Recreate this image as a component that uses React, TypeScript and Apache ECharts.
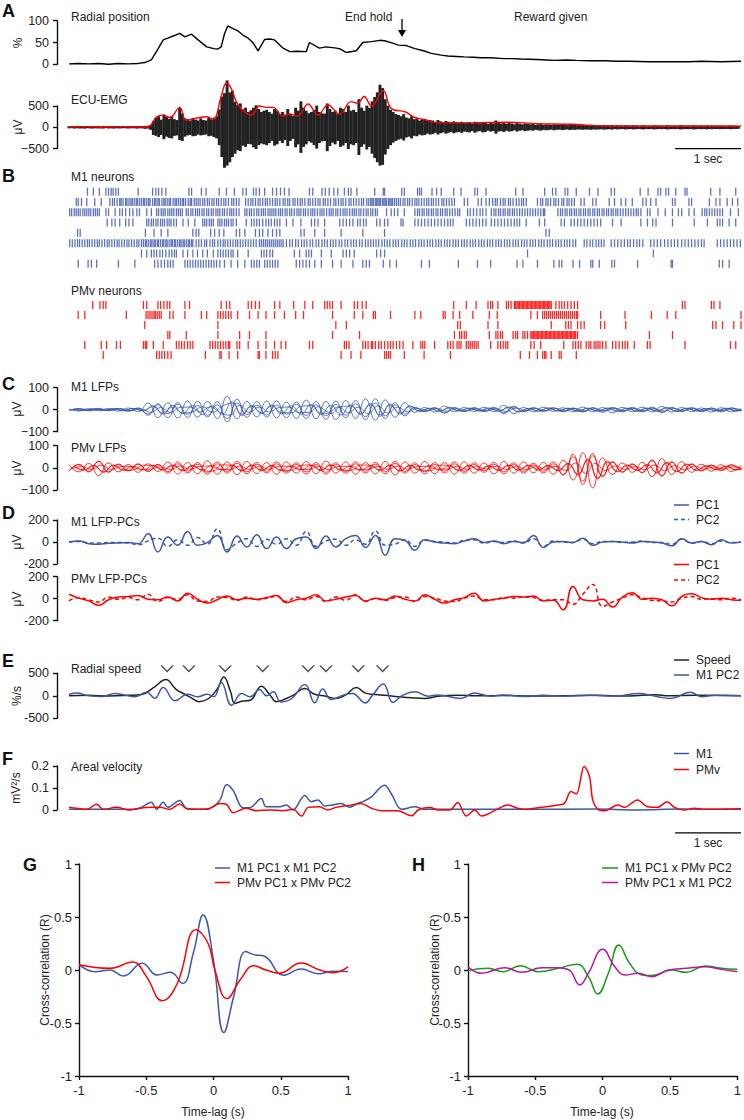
import { useEffect, useRef } from 'react';
import * as echarts from 'echarts';

const FONT = '"Liberation Sans", Arial, sans-serif';
const T_END = 10.2;
const BLUE = '#3b58a8';
const RASTER_BLUE = '#2a45a0';
const RED = '#ff0000';
const GREEN = '#1a9a1a';
const MAGENTA = '#b8179f';
const INK = '#111';
const TXT = '#222';

// ---------- Panel A ----------
const radialPos = [[0,1],[0.15,2],[0.3,1],[0.45,2],[0.6,0],[0.75,2],[0.9,1],[1.05,2],[1.15,4],[1.25,10],[1.35,35],[1.43,56],[1.5,60],[1.6,66],[1.68,71],[1.76,63],[1.86,69],[1.96,56],[2.09,40],[2.2,36],[2.26,35],[2.31,40],[2.36,70],[2.41,88],[2.49,82],[2.57,76],[2.64,67],[2.72,60],[2.79,50],[2.87,31],[2.97,57],[3.05,58],[3.12,56],[3.25,37],[3.35,29],[3.47,30],[3.6,29],[3.65,50],[3.8,37],[3.9,40],[4.06,37],[4.12,35],[4.21,27],[4.36,31],[4.46,50],[4.59,52],[4.72,55],[4.79,54],[4.9,49],[5.0,44],[5.12,43],[5.25,36],[5.38,31],[5.5,25],[5.65,21],[5.75,19],[5.88,18],[6.0,17],[6.13,16],[6.26,15],[6.4,15],[6.6,13],[6.73,13],[6.86,12],[7.1,11],[7.25,10],[7.37,9],[7.55,10],[7.7,9],[7.9,8],[8.13,8],[8.3,7],[8.5,7],[8.8,6],[9.14,6],[9.4,6],[9.6,7],[9.9,6],[10.2,7]];

// EMG: per-bin maximum and minimum, bins of 0.04 s (µV)
const EMG_DT = 0.04;
const emgHi = [
  25,30,20,35,28,22,30,25,32,20,28,35,22,30,25,28,33,20,26,30,24,32,28,22,30,
  28,25,32,30,35,40,60,150,220,260,180,300,240,200,260,190,170,450,320,210,190,160,220,180,160,
  210,170,160,220,190,230,260,420,720,800,1100,820,860,600,520,560,420,460,360,400,460,520,430,360,390,
  410,360,320,430,390,310,360,300,430,320,270,460,390,610,460,390,330,360,410,510,360,330,320,560,430,
  360,390,310,460,430,360,510,390,410,360,660,460,390,510,460,610,710,820,1000,920,660,510,410,360,310,
  290,260,310,230,210,260,190,210,160,190,180,150,170,160,130,170,140,120,150,130,110,140,120,110,130,
  100,110,120,90,130,100,90,120,110,80,100,90,160,100,90,110,80,100,90,70,100,80,70,90,80,
  70,80,60,70,80,60,70,65,55,70,60,55,65,60,50,65,55,60,50,55,60,50,55,60,50,
  55,50,45,55,50,45,55,40,50,45,40,50,45,40,50,45,40,45,50,40,45,40,50,45,40,
  45,40,50,45,40,45,40,50,45,40,45,40,50,45,40,45,40,50,40,45,40,40,45,40,40,
  40,45,40,40,35
];
const emgLo = [
  -25,-20,-30,-22,-28,-25,-32,-20,-26,-30,-22,-28,-25,-30,-20,-27,-24,-30,-22,-28,-25,-20,-30,-26,-22,
  -25,-30,-22,-28,-35,-30,-60,-180,-200,-230,-180,-280,-220,-250,-260,-200,-190,-300,-320,-220,-190,-180,-210,-200,-170,
  -190,-180,-170,-210,-200,-230,-260,-420,-700,-950,-900,-820,-700,-620,-540,-560,-430,-460,-390,-400,-470,-510,-420,-380,-400,
  -420,-370,-320,-430,-400,-320,-370,-300,-440,-320,-270,-470,-400,-600,-460,-400,-330,-360,-420,-500,-370,-330,-320,-560,-440,
  -360,-400,-320,-460,-430,-370,-510,-400,-420,-370,-650,-460,-400,-520,-460,-620,-720,-820,-900,-880,-640,-510,-420,-360,-320,
  -290,-270,-310,-240,-220,-260,-200,-210,-170,-190,-180,-150,-170,-160,-130,-170,-140,-120,-150,-130,-110,-140,-120,-110,-130,
  -100,-110,-120,-90,-130,-100,-90,-120,-110,-80,-100,-90,-150,-100,-90,-110,-80,-100,-90,-70,-100,-80,-70,-90,-80,
  -70,-80,-60,-70,-80,-60,-70,-65,-55,-70,-60,-55,-65,-60,-50,-65,-55,-60,-50,-55,-60,-50,-55,-60,-50,
  -55,-50,-45,-55,-50,-45,-55,-40,-50,-45,-40,-50,-45,-40,-50,-45,-40,-45,-50,-40,-45,-40,-50,-45,-40,
  -45,-40,-50,-45,-40,-45,-40,-50,-45,-40,-45,-40,-50,-45,-40,-45,-40,-50,-40,-45,-40,-40,-45,-40,-40,
  -40,-45,-40,-40,-35
];
const emgEnvelope = [[0,5],[0.3,15],[0.5,8],[0.8,15],[1.0,8],[1.2,12],[1.33,246],[1.43,286],[1.53,230],[1.68,468],[1.78,167],[1.98,230],[2.09,246],[2.19,183],[2.31,722],[2.39,1040],[2.46,920],[2.57,524],[2.77,286],[2.89,500],[3.0,468],[3.1,468],[3.25,262],[3.35,310],[3.47,262],[3.63,548],[3.78,286],[3.93,524],[4.11,310],[4.28,603],[4.38,563],[4.48,722],[4.59,500],[4.77,865],[4.89,444],[5.1,365],[5.25,230],[5.4,183],[5.6,103],[6.11,103],[6.61,119],[7.12,87],[7.62,70],[8.13,32],[9.14,24],[10.2,24]];
const scaleBarSec = [9.2, 10.2];

// ---------- Panel B (spike times, in units of 10 ms) ----------
const m1Row1 = [28,37,46,56,60,64,67,71,75,105,127,132,136,141,147,182,186,201,208,228,239,251,264,269,280,284,289,297,309,315,321,327,334,365,370,384,389,395,402,408,418,424,428,437,464,477,479,505,509,529,532,535,551,558,565,584,595,616,620,633,678,689,722,734,739,753,757,770,790,803,823,828,867,879,894,898,906,910,921,935,938,974,988,1012];
const m1Row2 = [11,14,19,27,39,49,62,66,69,73,77,79,82,86,88,91,94,96,99,102,104,107,110,113,115,118,121,123,127,130,132,135,137,141,144,146,149,152,154,158,161,163,166,169,172,174,177,181,184,186,190,193,196,199,203,206,210,213,217,220,224,227,231,235,238,242,247,250,254,258,268,272,276,279,283,287,290,294,298,301,305,309,313,316,320,325,328,332,335,340,343,347,351,354,358,363,366,370,374,378,381,386,389,393,397,402,405,409,413,416,420,425,428,432,436,440,444,447,452,455,458,460,462,465,467,469,471,473,476,478,480,482,485,487,489,491,494,497,500,503,507,510,514,517,521,525,528,531,535,539,543,546,550,553,557,561,566,569,573,577,581,585,600,605,621,626,633,638,643,647,650,655,659,662,667,670,674,679,683,687,690,694,711,716,719,724,727,731,736,739,743,748,751,756,759,763,767,777,782,795,800,820,828,838,845,855,871,876,883,891,916,920,941,945,972,982,988,999,1007,1015];
const m1Row3 = [1,4,8,11,14,17,21,24,27,30,33,37,40,43,46,56,60,70,77,81,86,92,97,103,107,118,125,133,136,140,143,146,150,153,156,159,163,166,169,172,178,181,185,188,192,195,198,202,205,209,212,216,219,223,226,229,233,236,240,244,247,250,254,258,267,270,274,277,281,285,288,292,295,298,302,305,308,311,314,318,321,324,328,331,335,338,342,346,349,352,356,359,363,367,370,373,377,381,384,387,391,395,398,401,405,408,412,416,419,422,426,430,433,436,440,443,447,451,454,458,461,465,468,482,489,494,499,509,525,529,532,536,539,543,546,550,553,557,560,564,567,571,574,578,582,586,590,593,605,609,614,619,624,628,633,641,645,648,652,655,659,662,666,669,673,676,680,684,688,692,696,700,704,708,712,716,720,722,742,746,749,753,756,760,763,767,770,774,777,781,784,788,791,795,798,802,805,809,812,816,819,823,826,830,833,837,841,845,849,853,857,861,864,868,878,882,894,905,916,925,930,941,949,961,965,968,972,976,980,984,988,992,1004,1016];
const m1Row4 = [58,65,70,77,86,91,97,118,121,125,128,132,135,139,142,145,149,152,155,159,163,173,181,191,203,206,209,213,216,219,226,229,232,236,239,242,246,249,254,269,277,281,285,289,294,299,303,307,312,316,320,330,340,352,368,373,378,388,411,416,421,426,431,438,442,447,451,467,472,479,484,504,507,525,530,535,540,545,550,555,560,565,570,575,579,583,603,608,613,618,623,628,633,641,646,651,656,661,666,671,676,680,684,694,714,722,747,752,762,767,772,777,782,787,792,797,802,807,825,838,868,878,886,891,916,949,969,984,988,992,1002,1012];
const m1Row5 = [13,17,116,129,140,150,188,193,197,215,221,228,235,254,259,267,283,289,294,302,309,315,320,352,357,373,388,413,446,479,724,729];
const m1Row6 = [1,5,9,13,16,20,24,28,31,35,39,43,46,50,54,58,61,65,69,73,76,80,84,88,91,95,99,103,106,110,113,116,118,121,124,126,129,131,134,136,139,142,144,147,149,152,155,157,160,162,165,168,170,173,175,178,181,183,186,188,193,197,201,206,209,214,218,221,226,230,234,237,241,245,249,253,256,260,264,268,272,276,280,284,289,292,295,298,301,304,307,310,313,316,319,322,325,330,335,339,344,348,353,357,361,366,370,375,379,384,388,392,397,401,405,410,414,419,423,428,432,436,441,445,450,454,458,462,466,470,475,479,483,487,492,496,500,505,509,513,518,522,526,531,535,539,544,548,552,557,561,565,570,574,578,583,587,591,596,600,604,609,613,617,622,626,630,635,639,643,648,652,656,661,665,669,674,678,682,687,691,695,700,704,708,713,717,721,726,730,734,739,743,747,752,756,760,765,769,782,786,791,795,800,804,808,812,823,828,833,838,843,848,852,857,862,866,871,883,888,893,898,904,909,914,919,924,930,935,940,945,950,955,960,964,984,989,994,999,1004,1009,1014,1019];
const m1Row7 = [110,118,125,129,133,138,142,147,152,156,160,163,173,180,188,195,203,210,219,226,230,234,238,242,246,249,256,272,292,296,300,305,309,342,350,360,364,368,383,398,416,421,426,433,467,473,479,696,887];
const m1Row8 = [14,29,34,42,75,100,130,135,140,145,150,154,158,176,180,184,188,192,196,200,204,208,212,216,220,224,229,236,246,256,267,277,281,285,289,297,301,305,309,313,317,345,350,355,360,365,373,383,400,413,431,446,451,456,477,487,497,535,547,591,620,640,680,689,711,736,744,748,765,775,792,795,805,824,828,863,914,916,987,992,1002];
const m1Spikes = [m1Row1, m1Row2, m1Row3, m1Row4, m1Row5, m1Row6, m1Row7, m1Row8];

const pmvRow1 = [36,47,52,56,113,118,135,139,144,149,153,176,183,231,239,244,272,277,283,289,312,320,341,358,370,388,392,396,400,413,433,438,445,451,584,603,618,636,640,643,651,664,667,671,676,678,680,682,684,686,688,690,692,694,696,698,700,702,704,706,708,710,712,714,716,718,720,722,724,726,728,730,732,739,744,748,752,757,762,767,772,931,935,975,979,988];
const pmvRow2 = [14,24,87,117,120,123,126,129,131,134,137,140,153,158,176,201,209,226,230,234,238,242,246,256,274,287,299,312,327,344,356,400,433,446,462,465,488,525,534,568,571,583,593,613,638,650,701,711,719,722,725,728,731,734,737,740,743,746,749,752,755,758,761,764,767,770,772,807,844,884,908,921,1020];
const pmvRow3 = [115,226,405,421,590,594,636,651,732,754,758,762,772,777,782,807,813,845,977,982,992,1009,1020];
const pmvRow4 = [150,153,178,226,259,274,299,400,441,585,593,596,600,603,638,648,651,655,658,674,678,681,689,692,696,701,703,705,707,709,711,713,715,717,719,721,723,725,727,729,731,733,735,737,739,741,743,745,747,749,751,753,755,757,759,761,763,765,767,769,772,881,916];
const pmvRow5 = [24,49,57,72,78,113,116,118,128,143,163,167,171,175,180,184,188,214,218,222,226,230,234,238,242,244,255,259,272,287,299,312,322,329,365,370,418,421,425,446,450,454,459,461,465,470,474,479,484,488,492,497,502,507,522,534,537,540,555,575,579,583,589,592,595,603,606,609,612,615,618,621,640,651,655,659,663,666,701,706,716,751,765,769,773,777,785,789,792,797,800,803,806,810,815,825,830,835,840,844,848,858,878,882,935,1004,1012];
const pmvRow6 = [52,133,137,141,145,150,155,207,229,231,243,256,287,289,299,309,313,317,413,428,443,479,482,485,488,509,539,579,685,699,711,719,722,724,732,744,747,770];
const pmvSpikes = [pmvRow1, pmvRow2, pmvRow3, pmvRow4, pmvRow5, pmvRow6];

// ---------- Panel C (µV, sampled every 0.15 s; some traces start a little later) ----------
const m1Lfp1 = [4,-6,5,-5,6,-7,8,-9,30,-36, 32,-38,40,-34,38,-40,62,-42,38,-33, 40,-37,35,-40,44,-42,38,-45,42,-40, 50,-48,45,-35,32,-12,10,-11,17,-9, 10,-8,11,-9,19,-18,10,-9,11,-8, 9,-10,12,-9,10,-14,11,-9,12,-10, 15,-11,10,-9,8,-11,9,-10,7];
const m1Lfp2 = [-3,4,-5,3,-4,5,-6,7,-20,22, -18,24,-21,19,-25,22,-40,30,-22,20, -24,21,-20,25,-26,22,-28,24,-25,27, -32,30,-28,22,-20,9,-8,7,-13,8, -7,6,-8,7,-14,12,-8,7,-6,8, -7,6,-9,8,-7,10,-8,7,-9,8, -11,9,-7,6,-8,7,-6,8,-5];
const m1Lfp3 = [2,-3,4,-2,3,-4,5,-4,14,-16, 12,-15,-10,14,-12,16,30,-20,15,-14, 16,-12,-14,16,18,-15,-17,14,16,-18, 22,-24,20,-15,14,-6,5,-6,8,-5, 6,-4,5,-6,10,-9,5,-6,7,-5, 6,-5,7,-6,5,-7,6,-5,7,-6, 8,-7,6,-5,4,-6,5,-5,4];
const m1Lfp4 = [-5,5,-4,6,-5,6,-7,8,-25,27, -36,32,-35,38,-33,37,-55,48,-35,37, -34,40,-37,35,-40,37,-44,39,-37,42, -46,50,-40,32,-28,11,-9,10,-16,10, -9,10,-8,11,-17,16,-9,10,-8,9, -10,8,-11,10,-12,9,-10,11,-9,12, -13,10,-8,10,-9,8,-10,7,-6];
const m1Lfp5 = [3,-4,3,-4,5,-5,6,-6,18,-20, 20,-17,19,-22,18,-20,36,-26,20,-18, 22,-19,18,-21,24,-22,20,-24,22,-20, 28,-30,26,-20,18,-8,7,-8,11,-6, 7,-6,8,-7,13,-11,6,-7,8,-6, 7,-8,6,-7,8,-6,7,-8,6,-7, 10,-8,7,-6,6,-5,7,-6,5];
const m1Lfp6 = [-2,3,-2,2,-3,4,-4,3,-12,10, -13,11,12,-10,13,-12,-25,20,-12,13, -11,10,12,-13,-12,14,-11,13,-14,12, -18,17,-15,12,-10,5,-4,5,-7,4, -5,4,-5,4,-8,7,-4,5,-4,5, -4,5,-5,4,-5,6,-4,5,-5,4, -6,5,-4,5,-4,3,-4,3,-3];
const m1Lfps = [m1Lfp1, m1Lfp2, m1Lfp3, m1Lfp4, m1Lfp5, m1Lfp6];

const pmvLfp1 = [15,-18,20,-35,22,-18,15,-20,18,-16, 26,-28,24,-27,32,-29,27,-31,29,-26, 24,-29,27,-24,29,-27,31,-24,27,-29, 24,-27,29,-32,27,-24,29,-27,24,-29, 27,-24,22,-27,29,-24,27,-22,24,-29, 35,-55,68,-90,45,-30,22,-20,25,-40, 42,-30,28,-20,16,-15,14,-16,12];
const pmvLfp2 = [-12,14,-16,28,-18,15,-12,16,-15,14, -17,18,-15,16,-20,18,-16,20,-18,16, -15,18,-16,15,-18,16,-20,15,-16,18, -15,16,-18,20,-16,15,-18,16,-15,18, -16,15,-13,16,-18,15,-16,13,-15,18, -30,50,-60,55,-35,25,-18,16,-20,32, -34,25,-22,16,-13,12,-11,13,-10];
const pmvLfp3 = [9,-11,12,-20,13,-11,-9,12,11,-10, 12,-13,11,-12,-15,13,12,-14,13,-12, 11,-13,-12,11,13,-12,14,-11,-12,13, 11,-12,13,-15,12,-11,-13,12,11,-13, 12,-11,10,-12,13,-11,12,-10,11,-13, 20,-33,40,-50,30,-18,13,-12,15,-24, 25,-18,17,-12,10,-9,8,-10,7];
const pmvLfp4 = [-14,16,-18,30,-20,17,-14,18,-16,15, -24,27,-23,24,-29,27,-24,29,-27,24, -23,27,-24,23,-27,24,-29,23,-24,27, -23,24,-27,29,-24,23,-27,24,-23,27, -24,23,-20,24,-27,23,-24,20,-23,27, -32,62,-75,65,-40,28,-20,18,-22,36, -38,28,-24,18,-14,13,-12,14,-11];
const pmvLfp5 = [7,-9,10,-17,11,-9,7,-10,9,-8, 10,-11,9,-10,12,-11,10,-12,11,-10, 9,-11,10,-9,11,-10,12,-9,10,-11, 9,-10,11,-12,10,-9,11,-10,9,-11, 10,-9,8,-10,11,-9,10,-8,9,-11, 18,-28,35,-45,25,-15,11,-10,12,-20, 21,-15,14,-10,8,-7,7,-8,6];
const pmvLfp6 = [-5,6,-7,12,-7,6,5,-7,-6,5, -7,8,-6,7,8,-7,-7,8,-7,6, -6,7,7,-6,-7,6,-8,6,7,-7, -6,7,-7,8,-6,6,7,-6,-6,7, -7,6,-5,7,-7,6,-7,5,-6,7, -12,22,-25,20,-12,9,-7,6,-8,13, -13,10,-9,6,-5,4,-4,5,-4];
const pmvLfps = [pmvLfp1, pmvLfp2, pmvLfp3, pmvLfp4, pmvLfp5, pmvLfp6];
const lfpStartTimes = [0, 0, 0.075, 0, 0.075, 0.04];

// ---------- Panel D (µV, sampled every 0.15 s) ----------
const m1Pc1 = [0,8,-15,-20,-12,-8,-5,-15,75,-90, 45,-30,95,-30,-5,60,-90,55,-45,65, -60,45,-60,30,45,-60,55,-45,30,60, -50,60,-120,30,15,-75,20,0,-10,-15, 10,30,-5,10,-15,5,-5,60,-50,0, 5,-5,35,-30,0,5,0,-10,5,0, -10,-35,30,-10,5,-25,20,-10,0];
const m1Pc2 = [0,5,-8,-10,-5,-5,-8,-25,10,35, -40,20,-30,40,-20,120,-70,-10,30,-40, 25,-20,30,-30,95,-40,10,25,-30,20, -20,100,-30,-20,20,-40,15,5,0,-10, 15,20,-10,5,-5,10,-10,30,-40,10, 0,-5,25,-15,5,5,-5,0,10,-5, -5,-20,25,-10,5,-15,10,-5,0];
const pmvPc1 = [40,5,-20,-60,-10,15,20,30,-5,-10, 15,-20,50,-5,-40,-10,25,-10,5,-5, 10,30,-35,-10,5,35,-20,-5,15,30, -20,5,-10,25,-5,-20,35,-5,-40,-10, 10,50,-20,-5,5,20,15,25,-20,-15, -100,110,-10,-20,-5,-75,15,55,-5,5, -10,-65,20,45,10,-5,5,-10,-15];
const pmvPc2 = [-20,10,-10,-30,15,-5,10,-10,40,-25, 10,-5,35,-20,-25,15,10,-15,15,-10, 5,20,-25,15,-10,20,-25,15,-15,35, -25,0,-15,10,15,-25,20,5,-20,-25, 5,25,-10,-10,10,5,15,10,-15,-10, -10,-50,40,130,-70,-30,5,35,10,-15, -20,-30,5,20,-5,0,-10,5,-10];

// ---------- Panel E ----------
const radialSpeed = [[0,0],[0.3,10],[0.6,-5],[0.9,10],[1.1,30],[1.3,200],[1.47,360],[1.62,150],[1.75,40],[1.85,-40],[1.98,-130],[2.12,-60],[2.25,150],[2.35,420],[2.45,100],[2.52,-170],[2.62,-120],[2.75,-100],[2.92,215],[3.05,20],[3.15,-130],[3.3,-60],[3.4,10],[3.58,165],[3.72,40],[3.9,-10],[4.05,-60],[4.2,20],[4.36,185],[4.5,60],[4.65,30],[4.8,10],[5.0,-20],[5.2,-45],[5.4,-60],[5.6,-10],[5.9,10],[6.2,0],[6.6,5],[7.0,-5],[7.5,0],[8.0,10],[8.5,-5],[8.9,25],[9.1,0],[9.5,10],[10.2,0]];
const speedM1Pc2 = [[0,30],[0.12,60],[0.3,0],[0.5,-15],[0.7,50],[1.0,-20],[1.18,80],[1.3,-55],[1.43,185],[1.61,-110],[1.8,35],[1.95,-20],[2.1,35],[2.2,-20],[2.31,300],[2.47,-210],[2.62,50],[2.75,-20],[2.89,140],[3.0,0],[3.1,90],[3.22,-135],[3.38,-60],[3.58,250],[3.73,-155],[3.85,150],[3.98,-80],[4.15,10],[4.3,50],[4.5,-160],[4.6,0],[4.77,260],[4.92,-150],[5.05,0],[5.25,90],[5.45,-10],[5.6,20],[5.95,-60],[6.15,65],[6.4,-10],[6.6,20],[6.9,-15],[7.2,10],[7.5,-10],[7.9,10],[8.3,-5],[8.65,50],[8.9,-10],[9.13,-60],[9.43,80],[9.6,-20],[9.8,10],[10.2,0]];
const speedPeakTimes = [1.49, 1.82, 2.37, 2.94, 3.63, 3.9, 4.39, 4.76];

// ---------- Panel F (mV²/s) ----------
const arealM1 = [[0,0.003],[1.0,0.003],[1.1,0.012],[1.25,0.035],[1.33,0.003],[1.43,0.035],[1.5,0.012],[1.68,0.043],[1.78,0.008],[1.98,0.003],[2.14,0.008],[2.29,0.045],[2.39,0.115],[2.49,0.09],[2.64,0.01],[2.74,0.01],[2.92,0.052],[2.99,0.015],[3.2,0.015],[3.3,0.023],[3.4,0.0],[3.58,0.066],[3.68,0.038],[3.78,0.046],[3.88,0.018],[4.0,0.023],[4.13,0.03],[4.26,0.012],[4.38,0.03],[4.46,0.038],[4.59,0.06],[4.79,0.113],[4.89,0.075],[5.05,0.003],[5.25,0.015],[5.4,0.003],[6.0,0.003],[7.0,0.003],[8.0,0.004],[8.6,0.0],[9.3,0.004],[10.2,0.003]];
const arealPmv = [[0,0.012],[0.12,0.008],[0.27,0.003],[0.42,0.026],[0.52,0.003],[0.72,0.012],[0.92,0.0],[1.07,0.008],[1.25,0.012],[1.38,0.012],[1.53,0.003],[1.68,0.027],[1.81,0.003],[2.09,0.003],[2.29,0.03],[2.39,0.026],[2.49,-0.012],[2.69,0.008],[2.84,-0.003],[3.05,0.0],[3.25,-0.003],[3.4,0.003],[3.53,-0.027],[3.63,0.012],[3.8,0.015],[3.93,0.0],[4.05,0.012],[4.26,0.021],[4.43,0.03],[4.59,0.008],[4.74,-0.003],[4.99,-0.003],[5.2,-0.026],[5.3,0.0],[5.48,0.011],[5.6,0.0],[5.78,0.0],[5.9,0.034],[6.03,-0.027],[6.16,0.0],[6.26,-0.027],[6.46,-0.003],[6.66,0.023],[6.81,0.008],[6.91,0.003],[7.17,0.012],[7.42,0.023],[7.52,0.03],[7.62,0.084],[7.7,0.073],[7.82,0.198],[7.9,0.153],[7.95,0.046],[8.03,0.003],[8.13,-0.003],[8.33,0.023],[8.43,0.012],[8.63,0.046],[8.78,0.015],[8.93,0.012],[9.08,0.038],[9.19,0.012],[9.34,0.0],[9.49,0.008],[9.64,0.003],[10.2,0.006]];

// ---------- Panels G, H (time-lag s, R) ----------
const xcM1M1 = [[-1,0.05],[-0.88,-0.016],[-0.77,0],[-0.67,-0.057],[-0.53,0.063],[-0.42,-0.047],[-0.32,-0.022],[-0.23,-0.126],[-0.15,0.16],[-0.077,0.52],[0,0.09],[0.077,-0.59],[0.15,-0.25],[0.24,0.175],[0.3,0.145],[0.38,0.13],[0.52,-0.05],[0.65,0.01],[0.78,-0.035],[0.89,-0.012],[1,-0.015]];
const xcPmvPmv = [[-1,0.05],[-0.77,0.016],[-0.6,0.075],[-0.5,-0.06],[-0.38,-0.29],[-0.27,-0.13],[-0.13,0.38],[-0.04,0.25],[0.01,0],[0.1,-0.27],[0.2,-0.09],[0.3,0.04],[0.39,0],[0.49,-0.03],[0.65,0.065],[0.79,0],[0.89,-0.025],[1,0.03]];
const xcM1Pmv = [[-1,-0.006],[-0.85,0.016],[-0.74,-0.016],[-0.61,0.04],[-0.48,-0.016],[-0.33,0.016],[-0.19,0.055],[-0.106,-0.063],[-0.037,-0.226],[0.042,-0.03],[0.12,0.236],[0.2,0.063],[0.29,-0.047],[0.36,-0.053],[0.51,0],[0.62,-0.022],[0.76,0.038],[0.88,0.016],[1,0.006]];
const xcPmvM1 = [[-1,0.03],[-0.9,-0.03],[-0.73,0.022],[-0.6,-0.022],[-0.45,0.022],[-0.34,0.022],[-0.25,0],[-0.17,-0.14],[-0.106,-0.03],[0,0.195],[0.09,0.03],[0.166,-0.047],[0.265,-0.03],[0.36,-0.063],[0.49,0],[0.62,0.016],[0.76,0.03],[0.88,0.006],[1,-0.016]];

const LFP_DT = 0.15;

// ---------- helpers ----------
const sampled = (arr: number[], dt: number, t0 = 0) => arr.map((v, i) => [Math.round((t0 + i * dt) * 1000) / 1000, v]);
const minusFmt = (v: number) => (v < 0 ? '\u2212' + Math.abs(v) : String(v));

const timeGrids = [
  { top: 20.7, height: 43.6 },   // 0 A radial
  { top: 106, height: 42.6 },    // 1 A EMG
  { top: 186.5, height: 82.4 },  // 2 B M1 raster
  { top: 300, height: 60 },      // 3 B PMv raster
  { top: 387.7, height: 44 },    // 4 C M1
  { top: 445.7, height: 44.3 },  // 5 C PMv
  { top: 520, height: 44 },      // 6 D M1
  { top: 576.7, height: 44 },    // 7 D PMv
  { top: 673.3, height: 45 },    // 8 E
  { top: 766, height: 44 },      // 9 F
];

const yAx = (gi: number, min: number, max: number, interval: number, fmt?: any) => ({
  gridIndex: gi, type: 'value', min, max, interval, offset: 12,
  axisLine: { show: true, onZero: false, lineStyle: { color: INK, width: 1.4 } },
  axisTick: { show: true, length: 4, lineStyle: { color: INK, width: 1.4 } },
  axisLabel: { color: TXT, fontSize: 12.5, margin: 8, fontFamily: FONT, formatter: fmt },
  splitLine: { show: false },
});

const line = (gi: number, data: any[], color: string, width: number, extra: any = {}) => ({
  type: 'line', xAxisIndex: gi, yAxisIndex: gi, data, symbol: 'none', silent: true, clip: false,
  lineStyle: { color, width, ...(extra.lineStyle || {}) }, itemStyle: { color },
  ...Object.fromEntries(Object.entries(extra).filter(([k]) => k !== 'lineStyle')),
});

const raster = (gi: number, rows: number[][], color: string, opacity: number) => ({
  type: 'custom', xAxisIndex: gi, yAxisIndex: gi, coordinateSystem: 'cartesian2d', silent: true, clip: false,
  data: rows.flatMap((row, r) => row.map((cs) => [cs / 100, r])),
  renderItem: (_p: any, api: any) => {
    const pt = api.coord([api.value(0), api.value(1)]);
    return { type: 'rect', shape: { x: pt[0] - 0.65, y: pt[1] - 4, width: 1.3, height: 8 }, style: { fill: color, opacity } };
  },
});

const txt = (x: number, y: number, text: string, o: any = {}) => ({
  type: 'text', x, y, rotation: o.rotation || 0, silent: true,
  style: { text, fill: o.fill || TXT, fontSize: o.fontSize || 12, fontWeight: o.fontWeight || 'normal', fontFamily: FONT, align: o.align || 'left', verticalAlign: 'middle' },
});
const seg = (x1: number, y1: number, x2: number, y2: number, stroke: string, lineWidth = 1.5, dash?: number[]) => ({
  type: 'line', silent: true, shape: { x1, y1, x2, y2 }, style: { stroke, lineWidth, lineDash: dash },
});
const legendItem = (x: number, y: number, color: string, label: string, dashed = false, len = 15) => [
  seg(x, y, x + len, y, color, 1.5, dashed ? [4, 3] : undefined),
  txt(x + len + 7, y, label),
];

const buildOption = () => {
  const grids: any[] = timeGrids.map((g) => ({ left: 69, width: 672, top: g.top, height: g.height }));
  grids.push({ left: 79, width: 269, top: 864, height: 212 });
  grids.push({ left: 468, width: 270, top: 864, height: 212 });

  const xAxis: any[] = timeGrids.map((_, i) => ({ gridIndex: i, type: 'value', min: 0, max: T_END, show: false }));
  const xcX = (gi: number) => ({
    gridIndex: gi, type: 'value', min: -1, max: 1, interval: 0.5,
    axisLine: { show: true, onZero: false, lineStyle: { color: INK, width: 1.4 } },
    axisTick: { show: true, length: 4, lineStyle: { color: INK, width: 1.4 } },
    axisLabel: { color: TXT, fontSize: 13, margin: 8, fontFamily: FONT },
    splitLine: { show: false },
  });
  xAxis.push(xcX(10), xcX(11));

  const yAxis: any[] = [
    yAx(0, 0, 100, 50),
    yAx(1, -500, 500, 500, minusFmt),
    { gridIndex: 2, type: 'value', min: -0.5, max: 7.5, inverse: true, show: false },
    { gridIndex: 3, type: 'value', min: -0.5, max: 5.5, inverse: true, show: false },
    yAx(4, -100, 100, 100, minusFmt),
    yAx(5, -100, 100, 100, minusFmt),
    yAx(6, -200, 200, 200),
    yAx(7, -200, 200, 200),
    yAx(8, -500, 500, 500),
    yAx(9, 0, 0.2, 0.1, (v: number) => (v === 0 ? '0' : v.toFixed(1))),
  ];
  const xcY = (gi: number) => ({
    gridIndex: gi, type: 'value', min: -1, max: 1, interval: 0.5,
    axisLine: { show: true, onZero: false, lineStyle: { color: INK, width: 1.4 } },
    axisTick: { show: true, length: 4, lineStyle: { color: INK, width: 1.4 } },
    axisLabel: { color: TXT, fontSize: 13, margin: 7, fontFamily: FONT },
    splitLine: { show: false },
  });
  yAxis.push(xcY(10), xcY(11));

  const emgBins = {
    type: 'custom', xAxisIndex: 1, yAxisIndex: 1, coordinateSystem: 'cartesian2d', silent: true, clip: false,
    data: emgHi.map((h, i) => [Math.round(i * EMG_DT * 1000) / 1000, emgLo[i], h]),
    encode: { x: 0, y: [1, 2] },
    renderItem: (_p: any, api: any) => {
      const lo = api.coord([api.value(0), api.value(1)]);
      const hi = api.coord([api.value(0), api.value(2)]);
      const w = api.size([EMG_DT, 0])[0] + 0.3;
      return { type: 'rect', shape: { x: lo[0] - w / 2, y: hi[1], width: w, height: lo[1] - hi[1] }, style: { fill: '#222' } };
    },
  };

  const series: any[] = [
    line(0, radialPos, '#000', 1.4),
    emgBins,
    line(1, emgEnvelope, RED, 1.4, { smooth: 0.4 }),
    line(1, scaleBarSec.map((t) => [t, -500]), '#000', 1.4),
    raster(2, m1Spikes, RASTER_BLUE, 0.75),
    raster(3, pmvSpikes, RED, 0.85),
    ...m1Lfps.map((a, k) => line(4, sampled(a, LFP_DT, lfpStartTimes[k]), BLUE, 0.8, { smooth: 0.5, clip: true })),
    ...pmvLfps.map((a, k) => line(5, sampled(a, LFP_DT, lfpStartTimes[k]), RED, 0.8, { smooth: 0.5, clip: true })),
    line(6, sampled(m1Pc2, LFP_DT), BLUE, 1.5, { smooth: 0.5, lineStyle: { type: [4, 3] } }),
    line(6, sampled(m1Pc1, LFP_DT), BLUE, 1.5, { smooth: 0.5 }),
    line(7, sampled(pmvPc2, LFP_DT), RED, 1.5, { smooth: 0.5, lineStyle: { type: [4, 3] } }),
    line(7, sampled(pmvPc1, LFP_DT), RED, 1.5, { smooth: 0.5 }),
    line(8, radialSpeed, '#222', 1.5, { smooth: 0.45 }),
    line(8, speedM1Pc2, BLUE, 1.5, { smooth: 0.45 }),
    {
      type: 'scatter', xAxisIndex: 8, yAxisIndex: 8, silent: true, clip: false,
      data: speedPeakTimes.map((t) => [t, 610]),
      symbol: 'path://M0,0L6,5L12,0', symbolSize: [12, 6],
      itemStyle: { color: 'none', borderColor: '#222', borderWidth: 1.3 },
    },
    line(9, arealM1, BLUE, 1.5, { smooth: 0.35 }),
    line(9, arealPmv, RED, 1.5, { smooth: 0.35 }),
    line(9, scaleBarSec.map((t) => [t, -0.104]), '#000', 1.4),
    line(10, xcM1M1, BLUE, 1.5, { smooth: 0.45 }),
    line(10, xcPmvPmv, RED, 1.5, { smooth: 0.45 }),
    line(11, xcM1Pmv, GREEN, 1.5, { smooth: 0.45 }),
    line(11, xcPmvM1, MAGENTA, 1.5, { smooth: 0.45 }),
  ];

  const letter = (x: number, y: number, t: string) => txt(x, y, t, { fontSize: 18, fontWeight: 'bold', fill: '#111' });
  const unit = (x: number, y: number, t: string) => txt(x, y, t, { rotation: Math.PI / 2, align: 'center', fontSize: 12 });

  const graphic: any[] = [
    letter(2, 11, 'A'), letter(2, 176, 'B'), letter(2, 384, 'C'), letter(2, 512.5, 'D'),
    letter(2, 661, 'E'), letter(2, 759, 'F'), letter(23, 865, 'G'), letter(412, 865, 'H'),
    txt(71, 17, 'Radial position'), txt(345, 17, 'End hold'), txt(514, 17, 'Reward given'),
    seg(402, 19, 402, 32, '#000', 1.3),
    { type: 'polygon', silent: true, shape: { points: [[398, 30], [406, 30], [402, 37]] }, style: { fill: '#000' } },
    txt(71, 100, 'ECU-EMG'),
    txt(708, 159, '1 sec', { align: 'center' }),
    txt(71, 177, 'M1 neurons'), txt(71, 291, 'PMv neurons'),
    txt(71, 387, 'M1 LFPs'), txt(71, 448, 'PMv LFPs'),
    txt(71, 522, 'M1 LFP-PCs'), txt(71, 579, 'PMv LFP-PCs'),
    txt(71, 669, 'Radial speed'), txt(71, 767, 'Areal velocity'),
    txt(708, 843, '1 sec', { align: 'center' }),
    unit(18, 43, '%'), unit(18, 127, 'μV'), unit(17, 409, 'μV'), unit(17, 468, 'μV'),
    unit(17, 542, 'μV'), unit(17, 599, 'μV'), unit(17, 696, '%/s'), unit(16, 788, 'mV²/s'),
    unit(45, 970, 'Cross-correlation (R)'), unit(435, 970, 'Cross-correlation (R)'),
    txt(213, 1112, 'Time-lag (s)', { align: 'center' }), txt(602, 1112, 'Time-lag (s)', { align: 'center' }),
    ...legendItem(674, 505, BLUE, 'PC1'), ...legendItem(674, 519.5, BLUE, 'PC2', true),
    ...legendItem(674, 564.5, RED, 'PC1'), ...legendItem(674, 580, RED, 'PC2', true),
    ...legendItem(674, 660, '#222', 'Speed'), ...legendItem(674, 675, BLUE, 'M1 PC2'),
    ...legendItem(674, 753.5, BLUE, 'M1'), ...legendItem(674, 769.5, RED, 'PMv'),
    ...legendItem(215, 868, BLUE, 'M1 PC1 x M1 PC2'), ...legendItem(215, 882.5, RED, 'PMv PC1 x PMv PC2'),
    ...legendItem(602, 868, GREEN, 'M1 PC1 x PMv PC2', false, 16), ...legendItem(602, 882.5, MAGENTA, 'PMv PC1 x M1 PC2', false, 16),
  ];

  return {
    animation: false,
    backgroundColor: '#fff',
    textStyle: { fontFamily: FONT },
    grid: grids, xAxis, yAxis, series, graphic,
  };
};

export default function App() {
  const ref = useRef<HTMLDivElement>(null);
  useEffect(() => {
    if (!ref.current) return;
    const chart = echarts.init(ref.current, null, { renderer: 'svg' });
    chart.setOption(buildOption() as any);
    return () => chart.dispose();
  }, []);
  return <div ref={ref} style={{ position: 'absolute', left: 0, top: 0, width: 744, height: 1120 }} />;
}
